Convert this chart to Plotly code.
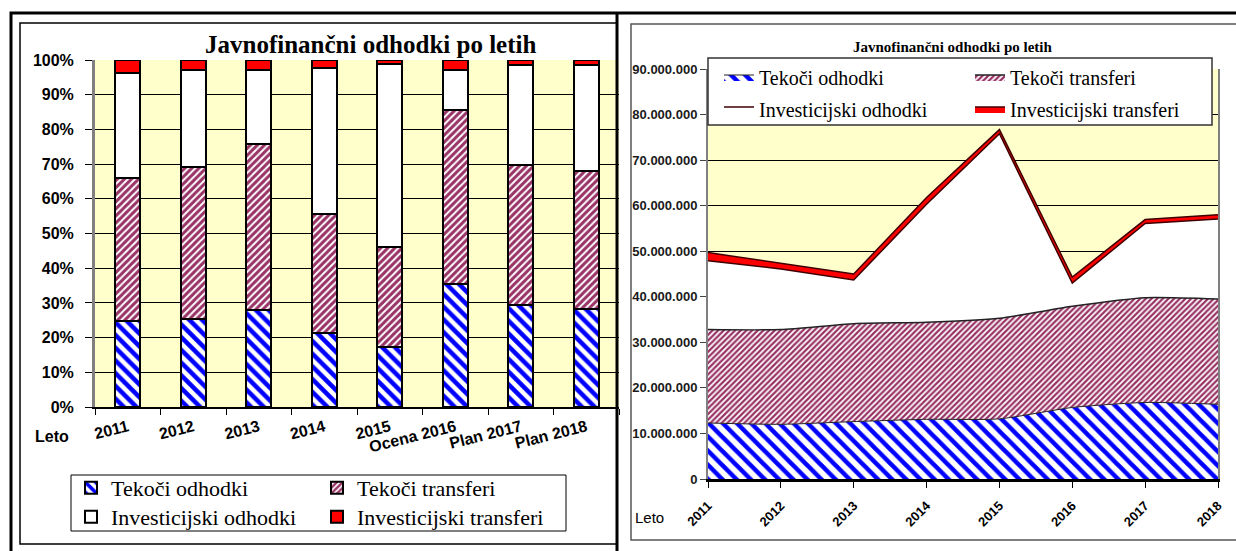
import plotly.graph_objects as go

# ---------------- data ----------------
categories_left = ["2011", "2012", "2013", "2014", "2015", "Ocena 2016", "Plan 2017", "Plan 2018"]
years_right = [2011, 2012, 2013, 2014, 2015, 2016, 2017, 2018]
year_labels_right = ["2011", "2012", "2013", "2014", "2015", "2016", "2017", "2018"]

series_names = ["Tekoči odhodki", "Tekoči transferi", "Investicijski odhodki", "Investicijski transferi"]
tekoci_odhodki = [12300000, 12000000, 12600000, 13100000, 13200000, 15700000, 16800000, 16400000]
tekoci_transferi = [20500000, 20800000, 21500000, 21300000, 22100000, 22200000, 23000000, 23100000]
investicijski_odhodki = [15100000, 13300000, 9600000, 25900000, 40500000, 5100000, 16300000, 17600000]
investicijski_transferi = [1800000, 1300000, 1300000, 1500000, 900000, 1300000, 850000, 900000]

title_text = "Javnofinančni odhodki po letih"
axis_word = "Leto"

# ---------------- helpers ----------------
W, H = 1236, 551


def px(x):
    return x / W


def py(y):
    return 1 - y / H


BLUE = "#0000FF"
PURPLE = "#993366"
RED = "#FF0000"
YELLOW = "#FFFFCC"

values = [tekoci_odhodki, tekoci_transferi, investicijski_odhodki, investicijski_transferi]
bar_markers = [
    dict(color="white", line=dict(color="black", width=2),
         pattern=dict(shape="\\", fgcolor=BLUE, bgcolor="white", size=9, solidity=0.5, fgopacity=1)),
    dict(color="white", line=dict(color="black", width=2),
         pattern=dict(shape="/", fgcolor=PURPLE, bgcolor="white", size=5, solidity=0.6, fgopacity=1)),
    dict(color="white", line=dict(color="black", width=2)),
    dict(color=RED, line=dict(color="black", width=2)),
]

fig = go.Figure()

# left: 100% stacked bars
for i, (name, vals) in enumerate(zip(series_names, values)):
    fig.add_trace(go.Bar(
        x=categories_left, y=vals, name=name, width=0.38,
        marker=bar_markers[i], xaxis="x", yaxis="y",
        legend="legend" if i == 0 else "legend%d" % (i + 1),
        hoverinfo="skip",
    ))

# right: stacked areas
area_styles = [
    dict(line=dict(color="#222222", width=1, shape="spline", smoothing=0.6), fillcolor="white",
         fillpattern=dict(shape="\\", fgcolor=BLUE, bgcolor="white", size=10, solidity=0.45, fgopacity=1)),
    dict(line=dict(color="#222222", width=1.5, shape="spline", smoothing=0.6), fillcolor="white",
         fillpattern=dict(shape="/", fgcolor=PURPLE, bgcolor="white", size=4, solidity=0.55, fgopacity=1)),
    dict(line=dict(color="#400000", width=1.5), fillcolor="white"),
    dict(line=dict(color="#400000", width=1.5), fillcolor=RED),
]
for i, (name, vals) in enumerate(zip(series_names, values)):
    fig.add_trace(go.Scatter(
        x=years_right, y=vals, name=name, mode="lines", stackgroup="right",
        xaxis="x2", yaxis="y2", legend="legend%d" % (i + 5), hoverinfo="skip",
        **area_styles[i]
    ))

# ---------------- layout ----------------
sans = "Liberation Sans, Arial, sans-serif"
serif = "Liberation Serif, Times New Roman, serif"

legend_pos = [
    # left legend (x of legend box, y row centre, font size)
    (71, 488, 22), (317, 488, 22), (71, 517, 22), (317, 517, 22),
    # right legend
    (719, 77, 20), (970, 77, 20), (719, 109, 20), (970, 109, 20),
]
legends = {}
for k, (lx, ly, fs) in enumerate(legend_pos):
    key = "legend" if k == 0 else "legend%d" % (k + 1)
    legends[key] = dict(
        x=px(lx), y=py(ly), xanchor="left", yanchor="middle",
        bgcolor="rgba(0,0,0,0)", borderwidth=0, itemwidth=30,
        font=dict(family=serif, size=fs, color="black"),
        itemclick=False, itemdoubleclick=False,
    )

shapes = [
    # outer thick frame
    dict(type="rect", xref="paper", yref="paper", x0=px(11), x1=px(1240), y0=py(13), y1=py(565),
         line=dict(color="black", width=3), fillcolor="rgba(0,0,0,0)", layer="above"),
    dict(type="line", xref="paper", yref="paper", x0=px(617), x1=px(617), y0=py(13), y1=py(565),
         line=dict(color="black", width=3), layer="above"),
    # left inner frame
    dict(type="rect", xref="paper", yref="paper", x0=px(20), x1=px(617), y0=py(23), y1=py(544),
         line=dict(color="black", width=1.5), fillcolor="rgba(0,0,0,0)", layer="above"),
    # right inner frame
    dict(type="rect", xref="paper", yref="paper", x0=px(631), x1=px(1245), y0=py(24), y1=py(540),
         line=dict(color="#555555", width=1.5), fillcolor="rgba(0,0,0,0)", layer="above"),
    # left legend box
    dict(type="rect", xref="paper", yref="paper", x0=px(71), x1=px(566), y0=py(475), y1=py(531),
         line=dict(color="black", width=1), fillcolor="white", layer="above"),
    # right legend box
    dict(type="rect", xref="paper", yref="paper", x0=px(708), x1=px(1212), y0=py(58), y1=py(125),
         line=dict(color="#333333", width=1.5), fillcolor="white", layer="above"),
]

annotations = [
    dict(text="<b>%s</b>" % title_text, x=px(370), y=py(45), xref="paper", yref="paper",
         showarrow=False, xanchor="center", yanchor="middle",
         font=dict(family=serif, size=25, color="black")),
    dict(text="<b>%s</b>" % title_text, x=px(952), y=py(47), xref="paper", yref="paper",
         showarrow=False, xanchor="center", yanchor="middle",
         font=dict(family=serif, size=15, color="black")),
    dict(text="<b>%s</b>" % axis_word, x=px(33), y=py(436), xref="paper", yref="paper",
         showarrow=False, xanchor="left", yanchor="middle",
         font=dict(family=sans, size=16, color="black")),
    dict(text=axis_word, x=px(633), y=py(517), xref="paper", yref="paper",
         showarrow=False, xanchor="left", yanchor="middle",
         font=dict(family=sans, size=15, color="black")),
]

fig.update_layout(
    width=W, height=H, margin=dict(l=0, r=0, t=0, b=0, autoexpand=False),
    paper_bgcolor="white", plot_bgcolor=YELLOW,
    font=dict(family=serif, color="black"),
    barmode="stack", barnorm="percent", separators=",.",
    showlegend=True, shapes=shapes, annotations=annotations,
    xaxis=dict(domain=[px(95), px(619)], type="category", range=[-0.5, 7.5], anchor="y",
               tickson="boundaries", ticks="outside", ticklen=6, tickcolor="black", tickwidth=1,
               tickangle=-14, showline=True, linecolor="black", linewidth=2,
               showgrid=False, zeroline=False, ticklabelstandoff=3, automargin=False,
               tickfont=dict(family=sans, size=16, color="black", weight="bold")),
    yaxis=dict(domain=[py(407), py(60)], range=[0, 100], dtick=10, anchor="x",
               ticksuffix="%", ticks="outside", ticklen=7, tickcolor="black",
               showline=True, linecolor="#808080", linewidth=3, automargin=False,
               showgrid=True, gridcolor="black", gridwidth=1, zeroline=False,
               ticklabelstandoff=8,
               tickfont=dict(family=sans, size=16, color="black", weight="bold")),
    xaxis2=dict(domain=[px(708), px(1218)], range=[2011, 2018], anchor="y2",
                tickvals=years_right, ticktext=year_labels_right, tickangle=-45,
                ticks="outside", ticklen=6, tickcolor="black", automargin=False,
                ticklabelstandoff=5,
                showline=True, linecolor="black", linewidth=3, showgrid=False, zeroline=False,
                tickfont=dict(family=sans, size=13, color="black", weight="bold")),
    yaxis2=dict(domain=[py(479), py(69)], range=[0, 90000000], dtick=10000000, anchor="x2",
                tickformat=",d", ticks="outside", ticklen=6, tickcolor="#444444",
                showline=True, linecolor="#808080", linewidth=2, mirror=True, automargin=False,
                showgrid=True, gridcolor="black", gridwidth=1, zeroline=False,
                tickfont=dict(family=sans, size=13, color="#1a1a1a", weight="bold")),
    **legends,
)

fig.write_html("out.html", config={"displayModeBar": False},
               post_script="document.body.style.margin='0';document.body.style.overflow='hidden';")
